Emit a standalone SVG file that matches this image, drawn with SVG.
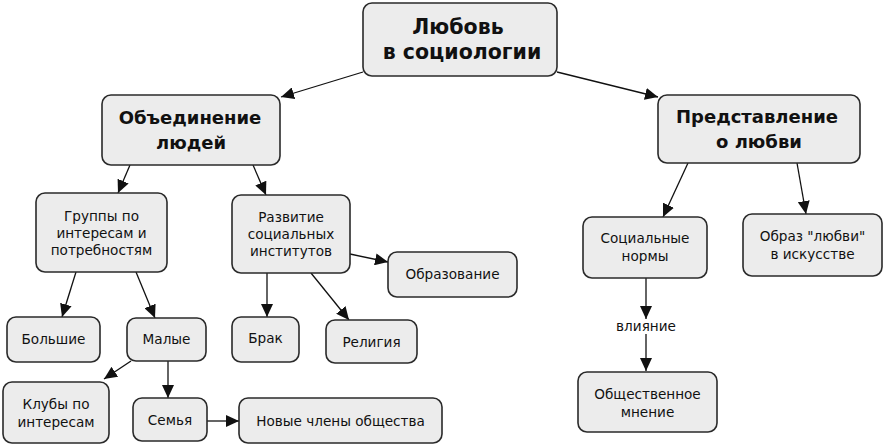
<svg xmlns="http://www.w3.org/2000/svg" width="884" height="446" viewBox="0 0 884 446">
<style>
.n rect{fill:#ececec;stroke:#2a2a2a;stroke-width:1.6}
text{font-family:"DejaVu Sans","Verdana",sans-serif;fill:#111;text-anchor:middle}
.t{font-size:13.6px}
.b{font-size:20.5px;font-weight:bold}
.m{font-size:18px;font-weight:bold}
.c line{stroke:#111;stroke-width:1.3;marker-end:url(#ah)}
</style>
<defs>
<marker id="ah" markerUnits="userSpaceOnUse" markerWidth="13" markerHeight="12" refX="13" refY="6" orient="auto">
<path d="M0,0 L13,6 L0,12 Z" fill="#111"/>
</marker>
</defs>
<rect width="884" height="446" fill="#fff"/>
<g class="c">
<line x1="363" y1="72" x2="281" y2="97"/>
<line x1="557" y1="72" x2="658" y2="97"/>
<line x1="130" y1="165" x2="118" y2="193"/>
<line x1="253" y1="165" x2="266" y2="195"/>
<line x1="76" y1="272" x2="62" y2="317"/>
<line x1="136" y1="272" x2="155" y2="318"/>
<line x1="267" y1="273" x2="267" y2="317"/>
<line x1="311" y1="273" x2="349" y2="320"/>
<line x1="350" y1="254" x2="388" y2="262"/>
<line x1="131" y1="361" x2="104" y2="379"/>
<line x1="168" y1="361" x2="168" y2="398"/>
<line x1="207" y1="421" x2="239" y2="421"/>
<line x1="688" y1="163" x2="663" y2="217"/>
<line x1="797" y1="163" x2="806" y2="214"/>
<line x1="646" y1="278" x2="646" y2="319"/>
<line x1="646" y1="334" x2="646" y2="371"/>
<text class="t" x="646" y="331">влияние</text>
</g>
<g id="root" class="n"><rect x="363" y="3" width="194" height="73" rx="9"/><text class="b" x="458" y="34">Любовь</text><text class="b" x="462" y="59">в социологии</text></g>
<g id="obed" class="n"><rect x="102" y="95" width="178" height="70" rx="9"/><text class="m" x="190" y="124">Объединение</text><text class="m" x="191" y="149">людей</text></g>
<g id="pred" class="n"><rect x="658" y="95" width="202" height="68" rx="9"/><text class="m" x="757" y="123">Представление</text><text class="m" x="759" y="148">о любви</text></g>
<g id="gruppy" class="n"><rect x="36" y="193" width="131" height="79" rx="9"/><text class="t" x="101.5" y="221">Группы по</text><text class="t" x="101.5" y="238">интересам и</text><text class="t" x="101.5" y="255">потребностям</text></g>
<g id="razv" class="n"><rect x="232" y="195" width="118" height="78" rx="9"/><text class="t" x="291" y="222">Развитие</text><text class="t" x="291" y="239">социальных</text><text class="t" x="291" y="256">институтов</text></g>
<g id="obraz" class="n"><rect x="388" y="252" width="129" height="45" rx="9"/><text class="t" x="452.5" y="279">Образование</text></g>
<g id="brak" class="n"><rect x="232" y="317" width="67" height="45" rx="9"/><text class="t" x="265.5" y="343">Брак</text></g>
<g id="relig" class="n"><rect x="326" y="320" width="91" height="43" rx="9"/><text class="t" x="371.5" y="347">Религия</text></g>
<g id="bolsh" class="n"><rect x="7" y="317" width="93" height="45" rx="9"/><text class="t" x="53.5" y="344">Большие</text></g>
<g id="malye" class="n"><rect x="127" y="318" width="79" height="43" rx="9"/><text class="t" x="166.5" y="344">Малые</text></g>
<g id="kluby" class="n"><rect x="3" y="382" width="106" height="61" rx="9"/><text class="t" x="56" y="409">Клубы по</text><text class="t" x="56" y="427">интересам</text></g>
<g id="semya" class="n"><rect x="133" y="398" width="74" height="43" rx="9"/><text class="t" x="170" y="425">Семья</text></g>
<g id="novye" class="n"><rect x="239" y="398" width="203" height="45" rx="9"/><text class="t" x="340.5" y="426">Новые члены общества</text></g>
<g id="normy" class="n"><rect x="583" y="217" width="124" height="61" rx="9"/><text class="t" x="645" y="243">Социальные</text><text class="t" x="645" y="261">нормы</text></g>
<g id="obrazl" class="n"><rect x="743" y="214" width="139" height="62" rx="9"/><text class="t" x="812.5" y="241">Образ "любви"</text><text class="t" x="812.5" y="259">в искусстве</text></g>
<g id="mnenie" class="n"><rect x="578" y="372" width="139" height="60" rx="9"/><text class="t" x="647.5" y="399">Общественное</text><text class="t" x="647.5" y="417">мнение</text></g>
</svg>
